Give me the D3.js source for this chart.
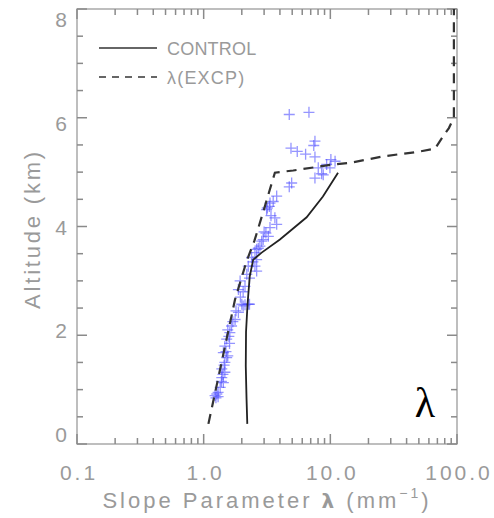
<!DOCTYPE html>
<html>
<head>
<meta charset="utf-8">
<script src="https://cdn.jsdelivr.net/npm/d3@7"></script>
<style>
  html, body { margin: 0; padding: 0; background: #fff; }
  svg { display: block; }
</style>
</head>
<body>
<svg id="chart" width="494" height="518"></svg>
<script>
// ---- data ----
const xTickValues = [0.1, 1, 10, 100];
const xTickLabels = ["0.1", "1.0", "10.0", "100.0"];
const yTickValues = [0, 2, 4, 6, 8];
const yTickLabels = ["0", "2", "4", "6", "8"];

const controlLambda = [2.21, 2.18, 2.15, 2.16, 2.22, 2.31, 2.46, 2.87, 4.0, 6.5, 8.74, 11.5];
const controlAlt    = [0.37, 0.83, 1.43, 2.06, 2.57, 3.08, 3.39, 3.52, 3.76, 4.17, 4.55, 4.99];

const excpLambda = [1.09, 1.77, 2.18, 2.51, 2.99, 3.33, 3.65, 5.09, 10.5, 14.3, 26.2, 48, 66.9, 77.8, 86.3, 94.5, 94.5];
const excpAlt    = [0.37, 2.66, 3.36, 3.73, 4.31, 4.68, 4.99, 5.03, 5.14, 5.17, 5.29, 5.37, 5.43, 5.66, 5.81, 6.0, 8.0];

const obsLambda = [
  4.74, 6.78, 7.56, 7.4, 4.89, 5.48, 6.38, 7.56, 10.1, 10.9, 9.35, 8.03, 9.93, 8.54, 7.56, 8.79, 4.95, 4.74,
  3.77, 3.54, 3.30, 3.18, 3.14, 3.34, 3.65, 3.77, 3.34, 3.10, 3.24, 2.95, 2.87, 2.78, 2.62, 2.54, 2.39, 2.62,
  2.25, 2.54, 2.62, 2.19, 1.94, 2.12, 1.88, 2.0, 2.25, 2.05, 2.12, 2.3, 1.88, 1.77, 1.66, 1.61, 1.52, 1.47,
  1.43, 1.52, 1.47, 1.39, 1.47, 1.39, 1.43, 1.35, 1.30, 1.27, 1.23,
  1.55, 1.7, 1.6, 1.45, 1.5, 1.38, 1.3, 1.25, 1.55, 1.42, 1.58, 1.8, 1.95, 2.05, 2.3, 2.45, 2.7, 3.0, 3.4
];
const obsAlt = [
  6.06, 6.10, 5.57, 5.49, 5.44, 5.38, 5.33, 5.28, 5.23, 5.20, 5.14, 5.08, 5.08, 4.97, 4.89, 4.95, 4.80, 4.73,
  4.56, 4.46, 4.37, 4.34, 4.31, 4.43, 4.16, 4.04, 3.98, 3.88, 3.82, 3.76, 3.73, 3.64, 3.58, 3.52, 3.43, 3.39,
  3.27, 3.27, 3.18, 3.12, 3.00, 2.90, 2.84, 2.57, 2.57, 2.54, 2.56, 2.57, 2.42, 2.29, 2.17, 2.05, 1.93, 1.80,
  1.68, 1.59, 1.50, 1.38, 1.32, 1.22, 1.13, 1.04, 0.95, 0.92, 0.89,
  2.10, 2.25, 1.85, 1.45, 1.70, 1.15, 0.87, 0.85, 1.62, 1.28, 1.98, 2.45, 2.70, 2.80, 3.05, 3.35, 3.60, 3.90, 4.20
];

const legendLabels = ["CONTROL", "λ(EXCP)"];

// ---- layout ----
const svg = d3.select("#chart");
const L = 77, R = 457, T = 9, B = 444;
const axisColor = "#9c9c9c";
const tickColor = "#8a8a8a";
const textColor = "#9a9a9a";
const sansFont = "'Liberation Sans', Arial, sans-serif";

const x = d3.scaleLog().domain([0.1, 100]).range([L, R]);
const y = d3.scaleLinear().domain([0, 8]).range([B, T]);
// the y tick labels in the reference sit on a slightly compressed span
const yLab = d3.scaleLinear().domain([0, 8]).range([435, 20]);

// minor ticks
const xMinor = [];
[0.1, 1, 10].forEach(d => { for (let k = 2; k <= 9; k++) xMinor.push(d * k); });
const yMinor = d3.range(0.5, 8, 0.5).filter(v => v % 2 !== 0);

// frame
svg.append("rect").attr("x", L).attr("y", T).attr("width", R - L).attr("height", B - T)
  .attr("fill", "none").attr("stroke", axisColor).attr("stroke-width", 1.3);

// ticks (inward on all four sides)
const tickG = svg.append("g").style("stroke", tickColor).style("stroke-width", "1.5px");
const xt4 = xTickValues.map(v => ({v, len: 10})).concat(xMinor.map(v => ({v, len: 6})));
const yt4 = yTickValues.map(v => ({v, len: 10})).concat(yMinor.map(v => ({v, len: 6})));
tickG.selectAll("line.xb").data(xt4).join("line").attr("class", "xb")
  .attr("x1", d => x(d.v)).attr("x2", d => x(d.v)).attr("y1", B).attr("y2", d => B - d.len);
tickG.selectAll("line.xt").data(xt4).join("line").attr("class", "xt")
  .attr("x1", d => x(d.v)).attr("x2", d => x(d.v)).attr("y1", T).attr("y2", d => T + d.len);
tickG.selectAll("line.yl").data(yt4).join("line").attr("class", "yl")
  .attr("y1", d => y(d.v)).attr("y2", d => y(d.v)).attr("x1", L).attr("x2", d => L + d.len);
tickG.selectAll("line.yr").data(yt4).join("line").attr("class", "yr")
  .attr("y1", d => y(d.v)).attr("y2", d => y(d.v)).attr("x1", R).attr("x2", d => R - d.len);

// tick labels
svg.append("g").attr("transform", `translate(0,${B})`)
  .call(d3.axisBottom(x).tickValues(xTickValues).tickSize(0).tickPadding(21)
    .tickFormat((d, i) => xTickLabels[i]))
  .call(g => g.select(".domain").remove())
  .call(g => g.selectAll("text").attr("fill", textColor).attr("font-family", sansFont)
    .attr("font-size", 21).style("letter-spacing", "3px").attr("dx", "1.5"));

svg.append("g").attr("transform", `translate(${L},0)`)
  .call(d3.axisLeft(yLab).tickValues(yTickValues).tickSize(0).tickPadding(10)
    .tickFormat((d, i) => yTickLabels[i]))
  .call(g => g.select(".domain").remove())
  .call(g => g.selectAll("text").attr("fill", textColor).attr("font-family", sansFont)
    .attr("font-size", 21));

// axis titles
const xt = svg.append("text")
  .attr("x", 267).attr("y", 508).attr("text-anchor", "middle")
  .attr("fill", textColor).attr("font-family", sansFont).attr("font-size", 22)
  .style("letter-spacing", "3px");
xt.append("tspan").text("Slope Parameter ");
xt.append("tspan").attr("font-family", "'DejaVu Sans', sans-serif").attr("font-weight", "bold").attr("font-size", 20).text("λ");
xt.append("tspan").text(" (mm");
xt.append("tspan").attr("font-size", 14).attr("dy", -10).text("−1");
xt.append("tspan").attr("dy", 10).text(")");

svg.append("text")
  .attr("transform", "translate(40,229) rotate(-90)")
  .attr("text-anchor", "middle")
  .attr("fill", textColor).attr("font-family", sansFont).attr("font-size", 22)
  .style("letter-spacing", "2.8px")
  .text("Altitude (km)");

// ---- data marks ----
const line = d3.line().x(d => x(d[0])).y(d => y(d[1]));
const controlData = controlLambda.map((v, i) => [v, controlAlt[i]]);
const excpData = excpLambda.map((v, i) => [v, excpAlt[i]]);
const obsData = obsLambda.map((v, i) => [v, obsAlt[i]]);

// observation crosses
const arm = 5.5;
svg.append("g").selectAll("path.obs").data(obsData).join("path")
  .attr("class", "obs")
  .attr("d", d => {
    const cx = x(d[0]), cy = y(d[1]);
    return `M${cx - arm},${cy}H${cx + arm}M${cx},${cy - arm}V${cy + arm}`;
  })
  .attr("stroke", "#4f4fff").attr("stroke-opacity", 0.6).attr("stroke-width", 1.3).attr("fill", "none");

svg.append("path").datum(controlData).attr("d", line)
  .attr("fill", "none").attr("stroke", "#222").attr("stroke-width", 1.8);

svg.append("path").datum(excpData).attr("d", line)
  .attr("fill", "none").attr("stroke", "#333").attr("stroke-width", 2.2)
  .attr("stroke-dasharray", "10,7");

// ---- legend ----
const legY = [48, 77];
svg.append("line").attr("x1", 99).attr("x2", 157).attr("y1", legY[0]).attr("y2", legY[0])
  .attr("stroke", "#666").attr("stroke-width", 2);
svg.append("line").attr("x1", 99).attr("x2", 157).attr("y1", legY[1]).attr("y2", legY[1])
  .attr("stroke", "#666").attr("stroke-width", 2).attr("stroke-dasharray", "7,6");
legendLabels.forEach((t, i) => {
  svg.append("text").attr("x", 167).attr("y", legY[i] + 6.5)
    .attr("fill", textColor).attr("font-family", sansFont).attr("font-size", 18)
    .style("letter-spacing", i === 1 ? "1.2px" : "0.2px")
    .text(t);
});

// panel label
svg.append("text").attr("x", 425).attr("y", 417).attr("text-anchor", "middle")
  .attr("fill", "#000").attr("font-family", "'Liberation Serif', 'Times New Roman', serif")
  .attr("font-size", 42).text("λ");
</script>
</body>
</html>
